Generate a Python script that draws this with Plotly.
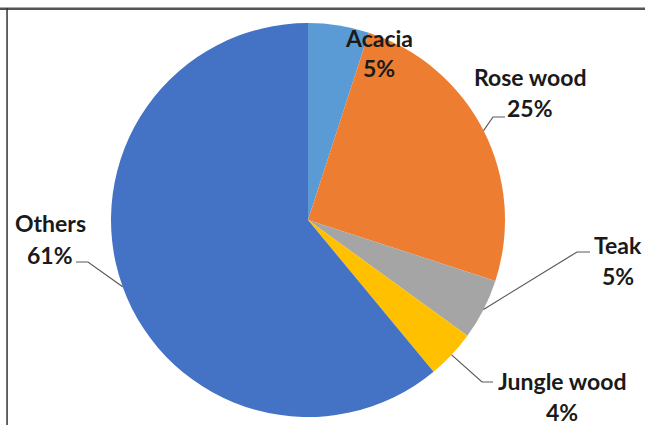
import math
import plotly.graph_objects as go

# ---- data ----
categories = ["Acacia", "Rose wood", "Teak", "Jungle wood", "Others"]
values = [5, 25, 5, 4, 61]
colors = ["#5B9BD5", "#ED7D31", "#A5A5A5", "#FFC000", "#4472C4"]

W, H = 645, 425
cx, cy, R = 308, 220, 197  # pie centre / radius in pixels


def px(x):
    return x / W


def py(y):
    return 1 - y / H


fig = go.Figure(go.Pie(
    labels=categories, values=values, sort=False, direction="clockwise",
    rotation=0, textinfo="none", hoverinfo="label+percent",
    marker=dict(colors=colors, line=dict(width=0)),
    domain=dict(x=[px(cx - R), px(cx + R)], y=[py(cy + R), py(cy - R)]),
    showlegend=False,
))

# label layout (name line centre, pct line centre) and leader elbow/end
label_pos = {
    "Acacia": (379, 38, 68),
    "Rose wood": (530, 77, 108),
    "Teak": (618, 245, 276),
    "Jungle wood": (562, 381, 412),
    "Others": (50, 223, 255),
}
leaders = {
    "Rose wood": [(493, 117), (505, 117)],
    "Teak": [(577, 252), (590, 252)],
    "Jungle wood": [(482, 382), (493, 382)],
    "Others": [(88, 262), (76, 262)],
}

total = sum(values)
cum = 0
annotations = []
shapes = []
font = dict(family="Lato, Carlito, Calibri, sans-serif", size=23, color="#1a1a1a")
for cat, v in zip(categories, values):
    mid = (cum + v / 2) / total * 2 * math.pi
    cum += v
    pct = round(v / total * 100)
    lx, ny, pyy = label_pos[cat]
    annotations.append(dict(x=px(lx), y=py(ny), xref="paper", yref="paper",
                            text=f"<b>{cat}</b>", showarrow=False, font=font,
                            xanchor="center", yanchor="middle"))
    annotations.append(dict(x=px(lx), y=py(pyy), xref="paper", yref="paper",
                            text=f"<b>{pct}%</b>", showarrow=False, font=font,
                            xanchor="center", yanchor="middle"))
    if cat in leaders:
        sx = cx + R * math.sin(mid)
        sy = cy - R * math.cos(mid)
        pts = [(sx, sy)] + leaders[cat]
        path = "M " + " L ".join(f"{px(a)},{py(b)}" for a, b in pts)
        shapes.append(dict(type="path", path=path, xref="paper", yref="paper",
                           line=dict(color="#595959", width=1.2)))

# frame (top and left edges visible)
shapes.append(dict(type="rect", xref="paper", yref="paper",
                   x0=0, x1=1, y0=py(10), y1=py(7.5),
                   fillcolor="#555555", line=dict(width=0)))
shapes.append(dict(type="rect", xref="paper", yref="paper",
                   x0=px(6.3), x1=px(7.8), y0=0, y1=py(8),
                   fillcolor="#333333", line=dict(width=0)))

fig.update_layout(
    width=W, height=H, margin=dict(l=0, r=0, t=0, b=0),
    paper_bgcolor="white", plot_bgcolor="white",
    annotations=annotations, shapes=shapes,
)

fig.write_html("out.html", config={"displayModeBar": False},
               post_script="document.body.style.margin='0';")
